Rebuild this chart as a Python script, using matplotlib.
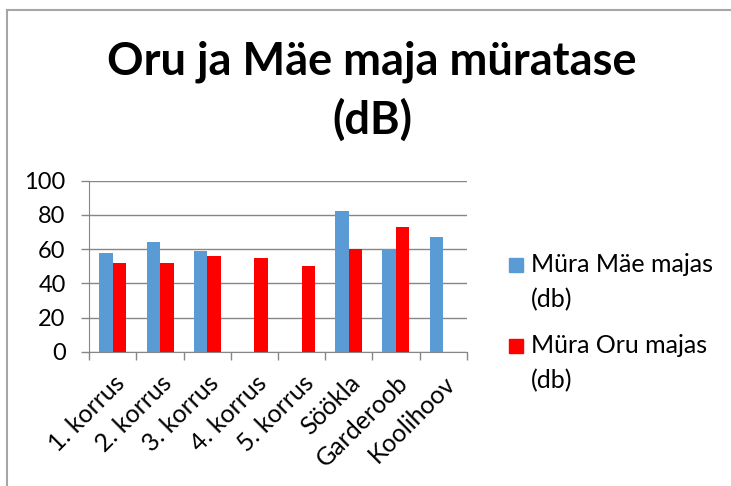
import matplotlib
matplotlib.use("Agg")
import matplotlib.pyplot as plt
from matplotlib.patches import Rectangle
from matplotlib.lines import Line2D
import numpy as np

plt.rcParams['font.family'] = ['Lato', 'DejaVu Sans']

# andmed
categories = ['1. korrus', '2. korrus', '3. korrus', '4. korrus', '5. korrus',
              'Söökla', 'Garderoob', 'Koolihoov']
mae_maja = [58, 64, 59, np.nan, np.nan, 82, 60, 67]
oru_maja = [52, 52, 56, 55, 50, 60, 73, np.nan]
series_labels = ['Müra Mäe majas\n(db)', 'Müra Oru majas\n(db)']
colors = ['#5B9BD5', '#FF0000']
y_ticks = [0, 20, 40, 60, 80, 100]

W, H = 731, 486
fig = plt.figure(figsize=(W / 100, H / 100), dpi=100)

# raam ümber diagrammi
fig.add_artist(Line2D([7 / W, 1], [1 - 10 / H, 1 - 10 / H], color='#A6A6A6', lw=1.5))
fig.add_artist(Line2D([7 / W, 7 / W], [0, 1 - 10 / H], color='#A6A6A6', lw=1.5))

ax = fig.add_axes([89.3 / W, 134.3 / H, 377.4 / W, 171 / H])

x = np.arange(len(categories))
bw = 0.285
ax.bar(x - bw / 2, mae_maja, bw, color=colors[0], zorder=3)
ax.bar(x + bw / 2, oru_maja, bw, color=colors[1], zorder=3)

ax.set_xlim(-0.5, len(categories) - 0.5)
ax.set_ylim(0, 100)
ax.set_yticks(y_ticks)
ax.grid(axis='y', color='#868686', lw=1, zorder=0)

ax.set_xticks(x)
ax.set_xticklabels(categories, rotation=45, ha='right', rotation_mode='anchor', fontsize=18)
ax.set_xticks(np.arange(len(categories) + 1) - 0.5, minor=True)
ax.tick_params(axis='x', which='major', length=0, pad=14)
ax.tick_params(axis='x', which='minor', length=6, color='#868686', width=1)
ax.tick_params(axis='y', length=6, color='#868686', width=1, labelsize=17, pad=11)

for s in ['top', 'right']:
    ax.spines[s].set_visible(False)
for s in ['left', 'bottom']:
    ax.spines[s].set_color('#868686')

fig.text(372 / W, 1 - 62 / H, 'Oru ja Mäe maja müratase', ha='center', va='center',
         fontsize=32.5, fontweight='bold')
fig.text(372 / W, 1 - 120 / H, '(dB)', ha='center', va='center',
         fontsize=32.5, fontweight='bold')

# legend
for i, (lab, col) in enumerate(zip(series_labels, colors)):
    y0 = 258 + i * 81
    fig.add_artist(Rectangle((509 / W, 1 - (y0 + 14) / H), 14 / W, 14 / H,
                             color=col, transform=fig.transFigure))
    fig.text(531 / W, 1 - (y0 - 5) / H, lab, ha='left', va='top', fontsize=18,
             linespacing=1.6)

fig.savefig('out.png', dpi=100)
